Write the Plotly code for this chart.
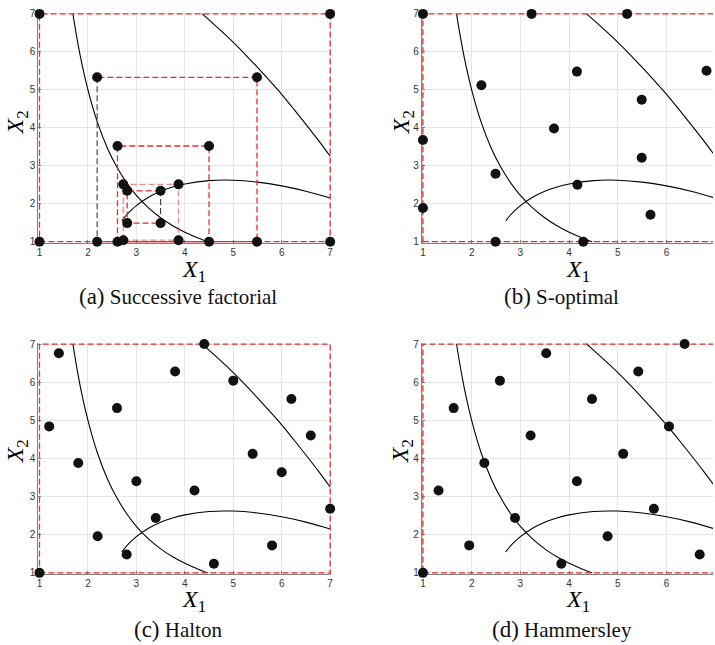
import plotly.graph_objects as go

# ---------------- data ----------------
ticks = [1, 2, 3, 4, 5, 6, 7]
lo, hi = 1.0, 7.0

# constraint boundaries
c1_x = [1.69, 1.75, 1.85, 2.0, 2.2, 2.4, 2.6, 2.8, 3.0, 3.25, 3.5, 3.75, 4.0, 4.25, 4.47]
c1_y = [7.0, 6.53, 5.84, 5.0, 4.13, 3.47, 2.96, 2.55, 2.22, 1.89, 1.63, 1.42, 1.25, 1.11, 1.0]
c2_x = [4.36, 4.5, 4.75, 5.0, 5.25, 5.5, 5.75, 6.0, 6.25, 6.5, 6.75, 7.0]
c2_y = [7.0, 6.84, 6.55, 6.25, 5.93, 5.59, 5.24, 4.88, 4.49, 4.09, 3.68, 3.25]
c3_x = [2.7, 2.8, 2.9, 3.0, 3.25, 3.5, 3.75, 4.0, 4.5, 5.0, 5.5, 6.0, 6.5, 7.0]
c3_y = [1.55, 1.71, 1.84, 1.95, 2.17, 2.33, 2.44, 2.52, 2.61, 2.62, 2.57, 2.47, 2.33, 2.15]

# (a) successive factorial: nested boxes
sf_xlo = [1.0, 2.19, 2.61, 2.73, 2.81]
sf_xhi = [7.0, 5.49, 4.50, 3.87, 3.50]
sf_ylo = [1.0, 1.0, 1.0, 1.04, 1.49]
sf_yhi = [7.0, 5.33, 3.52, 2.51, 2.34]

# (b) S-optimal
so_x = [1.0, 3.23, 5.19, 7.0, 2.20, 4.16, 6.82, 5.49, 3.69, 7.0,
        1.0, 5.49, 2.49, 4.17, 7.0, 5.67, 1.0, 2.49, 4.29, 7.0]
so_y = [7.0, 7.0, 7.0, 7.0, 5.12, 5.48, 5.50, 4.74, 3.98, 4.0,
        3.68, 3.21, 2.79, 2.50, 2.50, 1.71, 1.89, 1.0, 1.0, 1.0]

# (c) Halton
ha_x = [1.0, 4.2, 2.6, 5.8, 1.8, 5.0, 3.4, 6.6, 1.4, 4.6,
        3.0, 6.2, 2.2, 5.4, 3.8, 7.0, 1.2, 4.4, 2.8, 6.0]
ha_y = [1.0, 3.16, 5.32, 1.72, 3.88, 6.04, 2.44, 4.60, 6.76, 1.24,
        3.40, 5.56, 1.96, 4.12, 6.28, 2.68, 4.84, 7.0, 1.48, 3.64]

# (d) Hammersley
hm_x = [1.0, 1.32, 1.63, 1.95, 2.26, 2.58, 2.89, 3.21, 3.53, 3.84,
        4.16, 4.47, 4.79, 5.11, 5.42, 5.74, 6.05, 6.37, 6.68, 7.0]
hm_y = [1.0, 3.16, 5.32, 1.72, 3.88, 6.04, 2.44, 4.60, 6.76, 1.24,
        3.40, 5.56, 1.96, 4.12, 6.28, 2.68, 4.84, 7.0, 1.48, 3.64]

captions = ["(a)", "(b)", "(c)", "(d)"]
names = ["Successive factorial", "S-optimal", "Halton", "Hammersley"]

# ---------------- styling / layout ----------------
W, H = 715, 645
RED = "rgb(232,45,45)"
DARK = "#3a3a3a"
DOT = "#111111"
DASH = "6px,3px"
SERIF = "Liberation Serif, Times New Roman, serif"

# pixel geometry of each panel: x=1, x=7, y=7, y=1
geo = [
    (37.7, 330.0, 10.0, 240.7),
    (423.3, 717.3, 10.0, 240.7),
    (37.7, 330.0, 344.3, 576.0),
    (423.3, 717.3, 344.3, 576.0),
]
axn = [("x", "y"), ("x2", "y2"), ("x3", "y3"), ("x4", "y4")]

fig = go.Figure()


def add_curves(xa, ya):
    for cx, cy in ((c1_x, c1_y), (c2_x, c2_y), (c3_x, c3_y)):
        fig.add_trace(go.Scatter(x=cx, y=cy, mode="lines", xaxis=xa, yaxis=ya,
                                 line=dict(color="black", width=1.1, shape="spline"),
                                 hoverinfo="skip"))


def add_path(xa, ya, px, py, color=RED, opacity=1.0, width=1.3):
    fig.add_trace(go.Scatter(x=px, y=py, mode="lines", xaxis=xa, yaxis=ya, opacity=opacity,
                             line=dict(color=color, width=width, dash=DASH), hoverinfo="skip"))


def add_dots(xa, ya, px, py):
    fig.add_trace(go.Scatter(x=px, y=py, mode="markers", xaxis=xa, yaxis=ya, cliponaxis=False,
                             marker=dict(color=DOT, size=10, line=dict(width=0))))


# panel (a)
xa, ya = axn[0]
add_curves(xa, ya)
for i in range(len(sf_xlo)):
    xl, xh, yl, yh = sf_xlo[i], sf_xhi[i], sf_ylo[i], sf_yhi[i]
    if i == 1:
        add_path(xa, ya, [xl, xh, xh, xl], [yl, yl, yh, yh])
        add_path(xa, ya, [xl, xl], [yh, yl], color=DARK, width=1.1)
    elif i == 4:
        add_path(xa, ya, [xh, xl, xl, xh], [yh, yh, yl, yl])
        add_path(xa, ya, [xh, xh], [yl, yh], color=DARK, width=1.1)
    else:
        add_path(xa, ya, [xl, xh, xh, xl, xl], [yl, yl, yh, yh, yl],
                 opacity=0.55 if i == 3 else 1.0)
sf_px, sf_py = [], []
for i in range(len(sf_xlo)):
    for xx in (sf_xlo[i], sf_xhi[i]):
        for yy in (sf_ylo[i], sf_yhi[i]):
            sf_px.append(xx)
            sf_py.append(yy)
add_dots(xa, ya, sf_px, sf_py)

# panels (b)-(d)
for k, (px, py) in zip([1, 2, 3], [(so_x, so_y), (ha_x, ha_y), (hm_x, hm_y)]):
    xa, ya = axn[k]
    add_curves(xa, ya)
    add_path(xa, ya, [lo, hi, hi, lo, lo], [lo, lo, hi, hi, lo])
    add_dots(xa, ya, px, py)

layout = dict(width=W, height=H, margin=dict(l=0, r=0, t=0, b=0),
              plot_bgcolor="white", paper_bgcolor="white", showlegend=False)

annotations = []
pad = 1.2
for k, (x1p, x7p, y7p, y1p) in enumerate(geo):
    ux = (x7p - x1p) / 6.0
    uy = (y1p - y7p) / 6.0
    left = x1p - pad
    right = min(x7p + pad, W)
    top = y7p - pad
    bottom = y1p + pad
    common = dict(tickvals=ticks, showgrid=True, gridcolor="#e6e6e6", gridwidth=1,
                  zeroline=False, showline=True, linecolor="#808080", linewidth=1,
                  ticks="inside", ticklen=3, tickcolor="#808080", layer="below traces",
                  tickfont=dict(family="Liberation Sans, Arial", size=10, color="#333333"),
                  fixedrange=True)
    sx = "" if k == 0 else str(k + 1)
    layout["xaxis" + sx] = dict(common, domain=[left / W, right / W],
                                range=[lo - pad / ux, lo + (right - x1p) / ux],
                                anchor="y" + sx)
    layout["yaxis" + sx] = dict(common, domain=[1 - bottom / H, 1 - top / H],
                                range=[lo - pad / uy, hi + pad / uy],
                                anchor="x" + sx)
    col = 0 if k in (0, 2) else 1
    row = 0 if k < 2 else 1
    x1lab = (193, 579)[col]
    caplab = (177, 563)[col]
    ylab_x = (15, 403)[col]
    x1y = (270, 605)[row]
    capy = (296, 633)[row]
    ylab_y = (120, 453)[row]
    annotations.append(dict(x=x1lab / W, y=1 - x1y / H, xref="paper", yref="paper",
                            text="<i>X</i><sub>1</sub>", showarrow=False,
                            xanchor="center", yanchor="middle",
                            font=dict(family=SERIF, size=24, color="black")))
    annotations.append(dict(x=ylab_x / W, y=1 - ylab_y / H, xref="paper", yref="paper",
                            text="<i>X</i><sub>2</sub>", showarrow=False, textangle=-90,
                            xanchor="center", yanchor="middle",
                            font=dict(family=SERIF, size=24, color="black")))
    annotations.append(dict(x=caplab / W, y=1 - capy / H, xref="paper", yref="paper",
                            text="<span style='font-size:23px'>" + captions[k] + "</span> " + names[k],
                            showarrow=False, xanchor="center", yanchor="middle",
                            font=dict(family=SERIF, size=21, color="#111")))
layout["annotations"] = annotations
fig.update_layout(**layout)

fig.write_html("out.html", config={"displayModeBar": False},
               post_script="document.body.style.margin='0';document.body.style.overflow='hidden';")
